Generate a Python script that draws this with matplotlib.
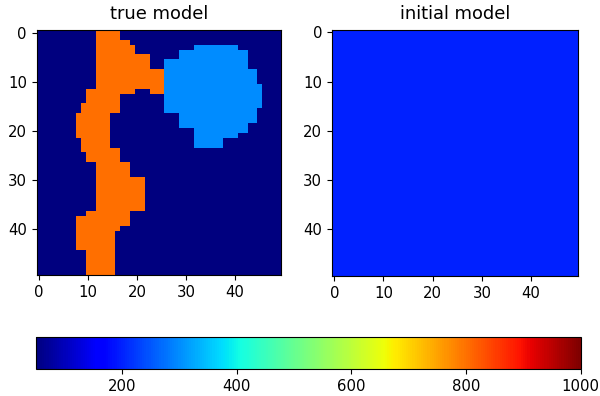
import matplotlib
matplotlib.use('Agg')
import matplotlib.pyplot as plt
import numpy as np

plt.rcParams['font.size'] = 10.75

nx, nz = 50, 50
v_background = 50
v_orange = 800
v_circle = 300
v_initial = 200
vmin, vmax = 50, 1000

# (row_start, row_end, col_start, col_end), inclusive
orange_blocks = [
    (0, 1, 12, 16), (2, 2, 12, 18), (3, 4, 12, 19), (5, 7, 12, 22),
    (8, 11, 12, 25), (12, 12, 10, 19), (12, 12, 23, 25),
    (13, 14, 10, 16), (15, 16, 9, 16), (17, 21, 8, 14), (22, 23, 9, 14),
    (24, 24, 9, 16), (25, 26, 10, 16), (27, 29, 12, 18), (30, 36, 12, 21),
    (37, 37, 10, 18), (38, 39, 8, 18), (40, 40, 8, 16), (41, 44, 8, 15),
    (45, 49, 10, 15),
]
circle_blocks = [
    (3, 3, 32, 40), (4, 5, 29, 42), (6, 7, 26, 42), (8, 10, 26, 44),
    (11, 15, 26, 45), (16, 16, 26, 44), (17, 18, 29, 44), (19, 19, 29, 42),
    (20, 20, 32, 42), (21, 21, 32, 40), (22, 23, 32, 37),
]

true_model = np.full((nz, nx), v_background, dtype=float)
for r0, r1, c0, c1 in orange_blocks:
    true_model[r0:r1 + 1, c0:c1 + 1] = v_orange
for r0, r1, c0, c1 in circle_blocks:
    true_model[r0:r1 + 1, c0:c1 + 1] = v_circle

init_model = np.full((nz, nx), v_initial, dtype=float)

fig = plt.figure(figsize=(6, 3.96), dpi=100)
ax1 = fig.add_axes([0.061, 0.3035, 0.408, 0.621])
ax2 = fig.add_axes([0.553, 0.3035, 0.41, 0.621])
cax = fig.add_axes([0.0597, 0.068, 0.908, 0.08])

im = ax1.imshow(true_model, cmap='jet', vmin=vmin, vmax=vmax, interpolation='nearest')
ax1.set_title('true model', pad=8)
ax2.imshow(init_model, cmap='jet', vmin=vmin, vmax=vmax, interpolation='nearest')
ax2.set_title('initial model', pad=8)

for ax in (ax1, ax2):
    ax.set_xticks([0, 10, 20, 30, 40])
    ax.set_yticks([0, 10, 20, 30, 40])

fig.colorbar(im, cax=cax, orientation='horizontal')

plt.savefig('out.png', dpi=100)
